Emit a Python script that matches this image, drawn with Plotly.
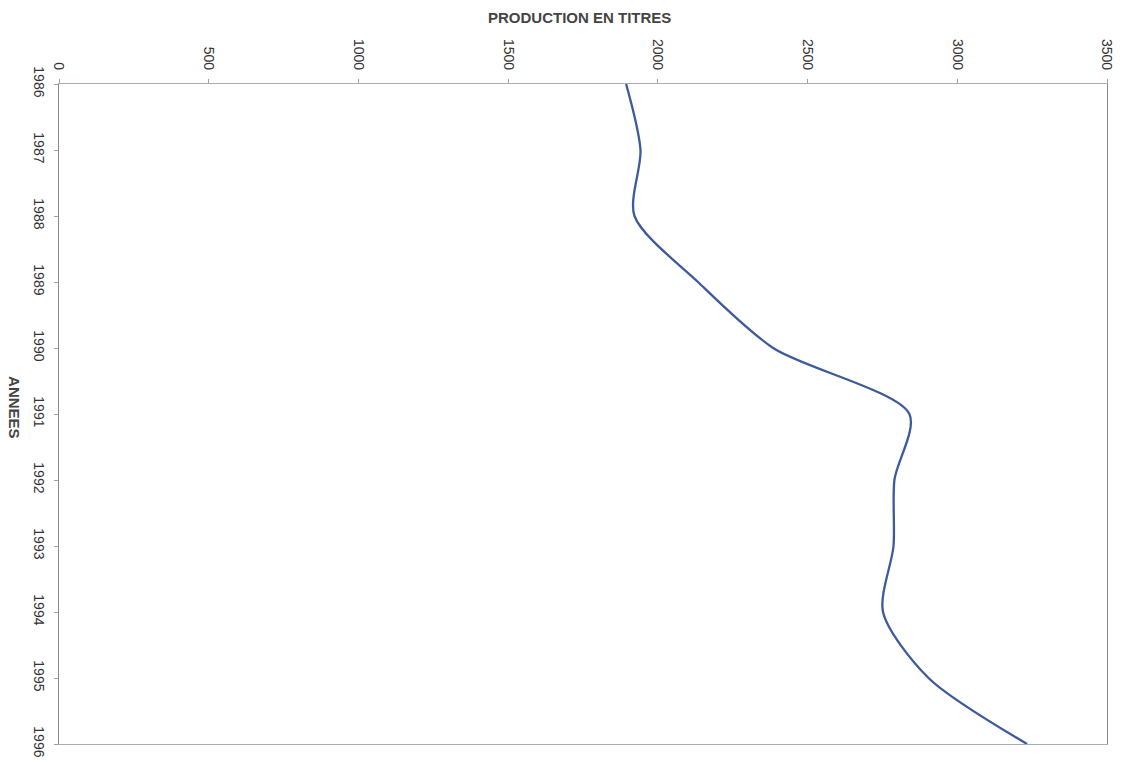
import plotly.graph_objects as go

years = [1986, 1987, 1988, 1989, 1990, 1991, 1992, 1993, 1994, 1995, 1996]
production = [1894, 1942, 1922, 2134, 2385, 2840, 2790, 2787, 2752, 2904, 3233]
x_ticks = [0, 500, 1000, 1500, 2000, 2500, 3000, 3500]

fig = go.Figure()
fig.add_trace(go.Scatter(
    x=production, y=years, mode="lines",
    line=dict(color="#3d5a9c", width=2.3, shape="spline", smoothing=0.8),
    showlegend=False, hoverinfo="x+y",
))

fig.update_layout(
    width=1126, height=762,
    margin=dict(l=59, r=19, t=84, b=18),
    paper_bgcolor="white", plot_bgcolor="white",
    font=dict(family="Liberation Sans, Arial, sans-serif", size=14, color="#333333"),
    xaxis=dict(
        side="top", range=[0, 3500], tickvals=x_ticks,
        ticktext=[str(v) for v in x_ticks], tickangle=90,
        showgrid=False, zeroline=False, automargin=False,
        showline=True, linecolor="#a8aeb8", linewidth=1, mirror=True,
        ticks="outside", ticklen=4, tickcolor="#a0a0a0",
        ticklabelstandoff=4,
    ),
    yaxis=dict(
        range=[1996, 1986], tickvals=years, ticktext=[str(y) for y in years],
        tickangle=90, showgrid=False, zeroline=False, automargin=False,
        showline=True, linecolor="#8a8a8a", linewidth=1, mirror=True,
        ticks="outside", ticklen=4, tickcolor="#a0a0a0",
        ticklabelstandoff=3,
    ),
    annotations=[
        dict(
            text="<b>PRODUCTION EN TITRES</b>", xref="paper", yref="paper",
            x=0.497, y=1.1015, xanchor="center", yanchor="middle", showarrow=False,
            font=dict(size=15, color="#444444"),
        ),
        dict(
            text="<b>ANNEES</b>", textangle=90, xref="paper", yref="paper",
            x=-0.042, y=0.509, xanchor="center", yanchor="middle", showarrow=False,
            font=dict(size=15, color="#444444"),
        ),
    ],
)

fig.write_html("out.html")
